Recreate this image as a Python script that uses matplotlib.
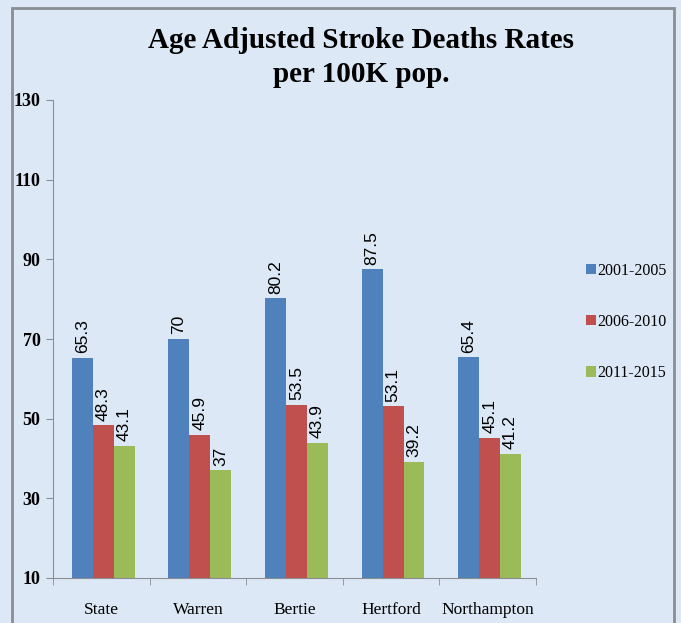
import matplotlib
matplotlib.use("Agg")
import matplotlib.pyplot as plt
from matplotlib.patches import Rectangle
import numpy as np

categories = ["State", "Warren", "Bertie", "Hertford", "Northampton"]
periods = ["2001-2005", "2006-2010", "2011-2015"]
rates_2001_2005 = [65.3, 70, 80.2, 87.5, 65.4]
rates_2006_2010 = [48.3, 45.9, 53.5, 53.1, 45.1]
rates_2011_2015 = [43.1, 37, 43.9, 39.2, 41.2]
yticks = [10, 30, 50, 70, 90, 110, 130]

colors = ["#4f81bd", "#c0504d", "#9bbb59"]
serif = "Liberation Serif"
sans = "Liberation Sans"

fig = plt.figure(figsize=(6.81, 6.23), dpi=100, facecolor="#dce8f5")
# grey frame round the chart
fig.patches.append(Rectangle((12 / 681, -0.05), (674 - 12) / 681, 1.05 - 8 / 623,
                             transform=fig.transFigure, fill=False,
                             edgecolor="#8a8e94", linewidth=2))

ax = fig.add_axes([53 / 681, 1 - 578 / 623, (536 - 53) / 681, (578 - 100) / 623])
ax.set_facecolor("none")

x = np.arange(len(categories))
w = 0.217
series = [rates_2001_2005, rates_2006_2010, rates_2011_2015]
for i, (vals, col, lab) in enumerate(zip(series, colors, periods)):
    pos = x + (i - 1) * w + 0.02
    ax.bar(pos, np.array(vals) - 10, width=w, bottom=10, color=col, label=lab)
    for px, v in zip(pos, vals):
        ax.text(px, v + 1.2, f"{v:g}", rotation=90, ha="center", va="bottom",
                fontsize=12.5, family=sans, color="black")

ax.set_ylim(10, 130)
ax.set_xlim(-0.5, len(categories) - 0.5)
ax.set_yticks(yticks)
ax.set_yticklabels([str(t) for t in yticks], family=serif, fontweight="bold", fontsize=13)
ax.set_xticks(x)
ax.set_xticklabels(categories, family=serif, fontsize=12.5)
ax.set_xticks(np.arange(-0.5, len(categories)), minor=True)
ax.tick_params(axis="x", which="major", length=0, pad=17)
ax.tick_params(axis="x", which="minor", length=5, color="#8a8e94")
ax.tick_params(axis="y", length=5, color="#8a8e94", pad=4)
for s in ["top", "right"]:
    ax.spines[s].set_visible(False)
for s in ["left", "bottom"]:
    ax.spines[s].set_color("#8a8e94")

fig.text(0.53, 1 - 40 / 623, "Age Adjusted Stroke Deaths Rates", ha="center", va="center",
         family=serif, fontweight="bold", fontsize=21)
fig.text(0.53, 1 - 75 / 623, "per 100K pop.", ha="center", va="center",
         family=serif, fontweight="bold", fontsize=21)

ax.legend(loc="center left", bbox_to_anchor=(572 / 681, 1 - 322 / 623),
          bbox_transform=fig.transFigure, frameon=False, prop={"family": serif, "size": 11.5},
          handlelength=0.6, handleheight=0.6, handletextpad=0.1, labelspacing=2.2)

fig.savefig("out.png", dpi=100, facecolor=fig.get_facecolor())
